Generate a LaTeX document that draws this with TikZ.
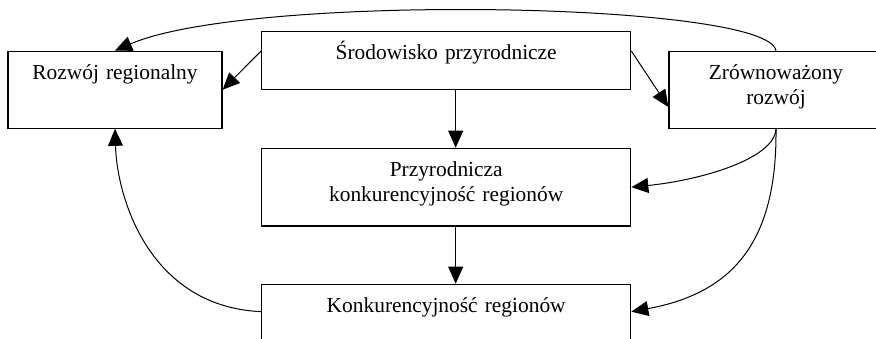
\documentclass[tikz,border=0pt]{standalone}
\usepackage{fontspec}
\setmainfont{Liberation Serif}
\usetikzlibrary{arrows.meta}

\begin{document}
\begin{tikzpicture}[x=1pt, y=1pt,
    box/.style={draw, line width=1.3pt, inner sep=0pt, align=center, text height=28pt, font=\fontsize{21.4}{25.5}\selectfont},
    arr/.style={-{Triangle[length=17pt, width=15pt]}, line width=1pt}]
  \clip (0, 0) rectangle (876, 338);
  \node[box, text width=214pt, text depth=49pt] at (115, 248.3) (rr) {Rozwój regionalny\hspace*{15pt}};
  \node[box, text width=369pt, text depth=29.6pt] at (446.2, 277.5) (sp) {Środowisko przyrodnicze};
  \node[box, text width=214pt, text depth=49pt] at (776, 248) (zr) {Zrównoważony\\rozwój};
  \node[box, text width=369pt, text depth=49.7pt] at (446.2, 150.8) (pk) {Przyrodnicza\\konkurencyjność regionów};
  \node[box, text width=369pt, text depth=49pt] at (446.2, 15.2) (kr) {Konkurencyjność regionów};

  \draw[arr] ([yshift=-20pt]sp.north west) -- (rr.east);
  \draw[arr] ([yshift=-20pt]sp.north east) -- ([yshift=-17pt]zr.west);
  \draw[arr] ([xshift=9.5pt]sp.south) -- ([xshift=9.5pt]pk.north);
  \draw[arr] ([xshift=9.5pt]pk.south) -- ([xshift=9.5pt]kr.north);
  \draw[arr] (zr.north) .. controls +(-6, 49) and +(135, 58) .. (rr.north);
  \draw[arr] (zr.south) .. controls +(-2, -30) and +(69, 7) .. (pk.east);
  \draw[arr] (zr.south) .. controls +(1, -110) and +(104, 19) .. ([yshift=-28pt]kr.north east);
  \draw[arr] ([yshift=-28pt]kr.north west) .. controls +(-111, 5) and +(2, -70) .. (rr.south);
\end{tikzpicture}
\end{document}
